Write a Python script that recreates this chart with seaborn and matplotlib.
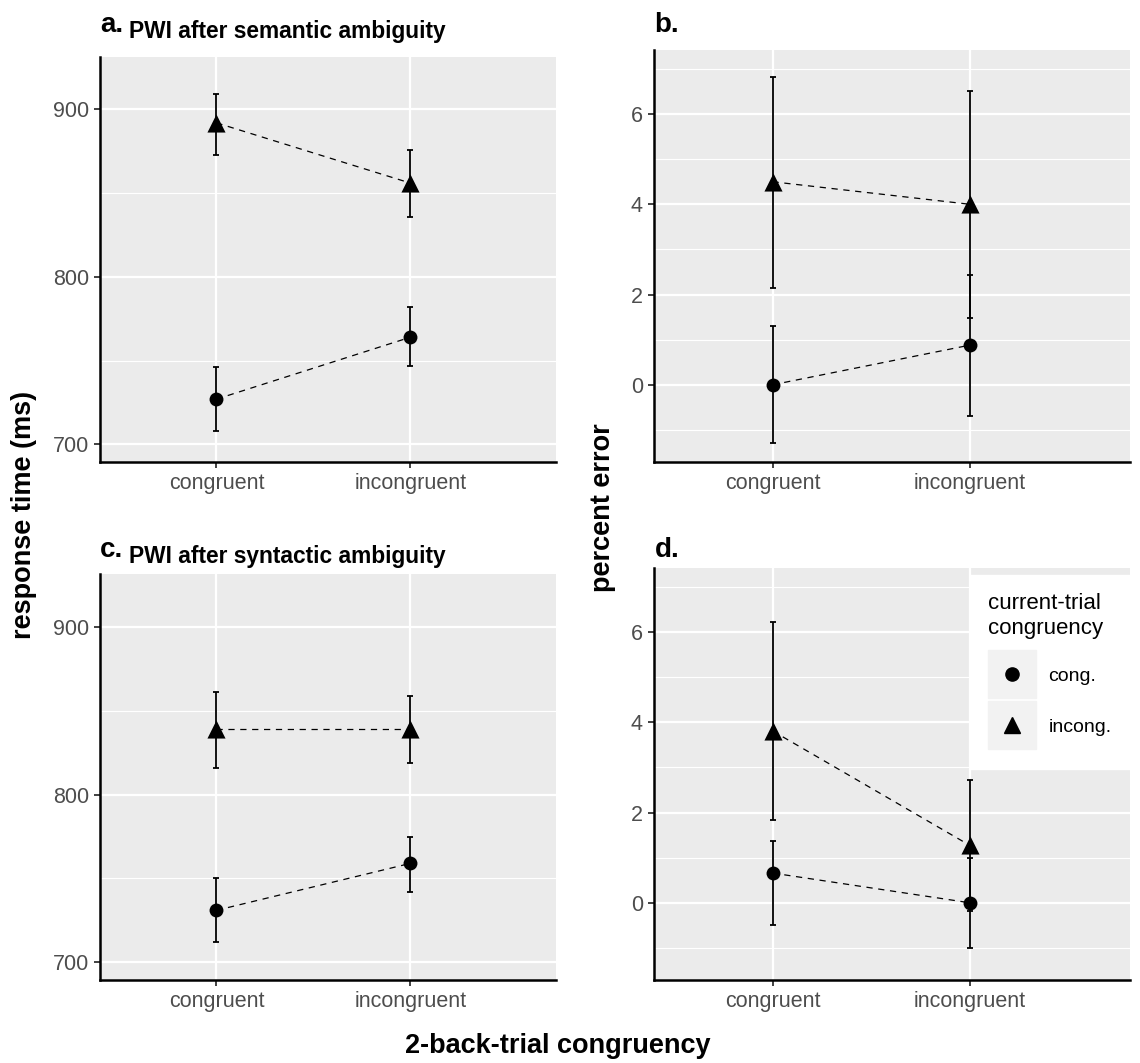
import numpy as np
import pandas as pd
import matplotlib
matplotlib.use("Agg")
import matplotlib.pyplot as plt
import seaborn as sns
from matplotlib.lines import Line2D
from matplotlib.text import Annotation
from matplotlib.legend_handler import HandlerTuple

# --- data ---
levels = ["congruent", "incongruent"]          # 2-back-trial congruency
current = ["cong.", "incong."]                 # current-trial congruency

# a. RT, PWI after semantic ambiguity
a_cong = [727, 764]
a_cong_lo = [708, 747]
a_cong_hi = [746, 782]
a_incong = [892, 856]
a_incong_lo = [873, 836]
a_incong_hi = [909, 876]

# b. percent error, semantic
b_cong = [0.0, 0.88]
b_cong_lo = [-1.3, -0.69]
b_cong_hi = [1.3, 2.44]
b_incong = [4.5, 4.0]
b_incong_lo = [2.15, 1.48]
b_incong_hi = [6.83, 6.51]

# c. RT, PWI after syntactic ambiguity
c_cong = [731, 759]
c_cong_lo = [712, 742]
c_cong_hi = [750, 775]
c_incong = [839, 839]
c_incong_lo = [816, 819]
c_incong_hi = [861, 859]

# d. percent error, syntactic
d_cong = [0.66, 0.0]
d_cong_lo = [-0.5, -1.0]
d_cong_hi = [1.36, 1.0]
d_incong = [3.81, 1.27]
d_incong_lo = [1.83, -0.19]
d_incong_hi = [6.22, 2.73]

sns.set_style("darkgrid")
plt.rcParams['font.family'] = ['Liberation Sans', 'DejaVu Sans']
plt.rcParams['text.color'] = 'black'


def panel_df(cong, cong_lo, cong_hi, incong, incong_lo, incong_hi):
    df = pd.DataFrame({
        'back': levels * 2,
        'current': [current[0]] * 2 + [current[1]] * 2,
        'value': cong + incong,
        'lo': cong_lo + incong_lo,
        'hi': cong_hi + incong_hi,
    })
    df['pos'] = df['back'].map({l: i for i, l in enumerate(levels)})
    return df


def draw(ax, df, ylim, major, minor, xright):
    ax.set_facecolor('#EBEBEB')
    for cur, g in df.groupby('current'):
        ax.errorbar(g['pos'], g['value'],
                    yerr=[g['value'] - g['lo'], g['hi'] - g['value']],
                    fmt='none', ecolor='black', elinewidth=1.3,
                    capsize=2, capthick=1.3, zorder=3)
    sns.lineplot(data=df, x='pos', y='value', units='current', estimator=None,
                 color='black', lw=0.9, linestyle=(0, (5, 4.5)), ax=ax,
                 zorder=4, legend=False)
    for cur, marker, s in [('cong.', 'o', 100), ('incong.', '^', 170)]:
        sns.scatterplot(data=df[df['current'] == cur], x='pos', y='value',
                        marker=marker, s=s, color='black', edgecolor='black',
                        linewidth=0, ax=ax, zorder=5, legend=False)
    ax.set_xlim(-0.6, xright)
    ax.set_ylim(ylim)
    ax.set_xticks(range(len(levels)))
    ax.set_xticklabels(levels)
    ax.set_yticks(major)
    ax.set_yticks(minor, minor=True)
    ax.grid(which='major', color='white', lw=1.6)
    ax.grid(which='minor', axis='y', color='white', lw=0.8)
    ax.grid(which='minor', axis='x', visible=False)
    ax.set_axisbelow(True)
    for side in ['top', 'right']:
        ax.spines[side].set_visible(False)
    for side in ['left', 'bottom']:
        ax.spines[side].set_visible(True)
        ax.spines[side].set_color('black')
        ax.spines[side].set_linewidth(1.8)
    ax.set_xlabel('')
    ax.set_ylabel('')
    ax.tick_params(which='major', length=4, width=1.3, color='#333333',
                   labelsize=15.5, labelcolor='#4D4D4D', pad=4,
                   left=True, bottom=True)
    ax.tick_params(which='minor', length=0)


class KeyHandler(HandlerTuple):
    # keep key box + marker centred on the label text
    def create_artists(self, legend, orig_handle, xdescent, ydescent,
                       width, height, fontsize, trans):
        target = 0.36 * fontsize
        return super().create_artists(legend, orig_handle, xdescent,
                                      height - 2 * target, width, height,
                                      fontsize, trans)


fig = plt.figure(figsize=(11.4, 10.63), dpi=100)

ax_a = fig.add_axes([0.0877, 0.5654, 0.400, 0.3813])
ax_b = fig.add_axes([0.5737, 0.5654, 0.4175, 0.3876])
ax_c = fig.add_axes([0.0877, 0.0781, 0.400, 0.3820])
ax_d = fig.add_axes([0.5737, 0.0781, 0.4175, 0.3876])

rt_lim = (689.5, 931.5)
err_lim = (-1.71, 7.42)

draw(ax_a, panel_df(a_cong, a_cong_lo, a_cong_hi, a_incong, a_incong_lo, a_incong_hi),
     rt_lim, [700, 800, 900], [750, 850], 1.75)
draw(ax_b, panel_df(b_cong, b_cong_lo, b_cong_hi, b_incong, b_incong_lo, b_incong_hi),
     err_lim, [0, 2, 4, 6], [-1, 1, 3, 5, 7], 1.81)
draw(ax_c, panel_df(c_cong, c_cong_lo, c_cong_hi, c_incong, c_incong_lo, c_incong_hi),
     rt_lim, [700, 800, 900], [750, 850], 1.75)
draw(ax_d, panel_df(d_cong, d_cong_lo, d_cong_hi, d_incong, d_incong_lo, d_incong_hi),
     err_lim, [0, 2, 4, 6], [-1, 1, 3, 5, 7], 1.81)

# panel titles: big bold letter followed by a smaller bold subtitle
W, H = 1140, 1063
titles = [("a.", "PWI after semantic ambiguity", 100, 31.7),
          ("b.", "", 654, 31.7),
          ("c.", "PWI after syntactic ambiguity", 100, 556.7),
          ("d.", "", 655, 556.7)]
for tag, sub, px, py in titles:
    t = fig.text(px / W, 1 - py / H, tag, fontsize=20, fontweight='bold',
                 ha='left', va='baseline')
    if sub:
        fig.add_artist(Annotation(sub, xy=(1, 0), xycoords=t, xytext=(6, 0),
                                  textcoords='offset pixels', fontsize=16.4,
                                  fontweight='bold', ha='left', va='baseline'))

# shared axis titles
fig.text(24 / W, 1 - 515 / H, "response time (ms)", rotation=90,
         fontsize=19.5, fontweight='bold', ha='center', va='center')
fig.text(603 / W, 1 - 508 / H, "percent error", rotation=90,
         fontsize=19.5, fontweight='bold', ha='center', va='center')
fig.text(558 / W, 1 - 1046 / H, "2-back-trial congruency",
         fontsize=19.5, fontweight='bold', ha='center', va='center')

# legend in panel d (grey key boxes like ggplot)
key = dict(marker='s', markersize=34, color='#F2F2F2', linestyle='none')
h_cong = (Line2D([], [], **key),
          Line2D([], [], marker='o', markersize=9.5, color='black', linestyle='none'))
h_incong = (Line2D([], [], **key),
            Line2D([], [], marker='^', markersize=12, color='black', linestyle='none'))
leg = ax_d.legend([h_cong, h_incong], current,
                  handler_map={tuple: KeyHandler(ndivide=1, pad=0)},
                  title="current-trial\ncongruency", title_fontsize=16,
                  fontsize=14, loc='upper right',
                  bbox_to_anchor=(1.0, 1 - 7 / 412), borderaxespad=0,
                  frameon=True, facecolor='white', edgecolor='white',
                  framealpha=1, fancybox=False, handlelength=2.45,
                  handleheight=3.45, labelspacing=0.15, borderpad=0.95,
                  handletextpad=0.65)
leg._legend_box.align = "left"
leg._legend_box.sep = 9

fig.savefig("out.png", dpi=100)
